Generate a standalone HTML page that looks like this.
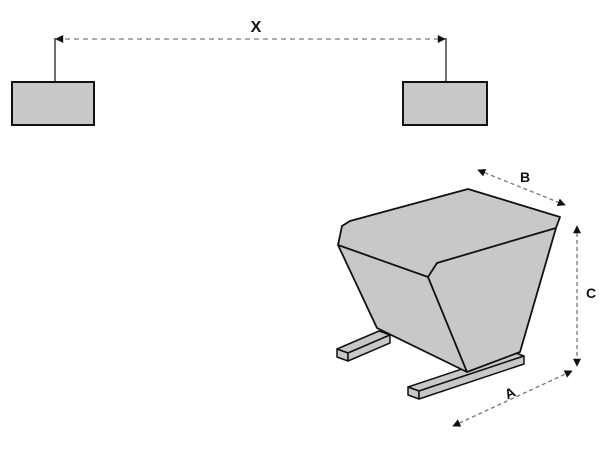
<!DOCTYPE html>
<html><head><style>body{margin:0;background:#fff}</style></head><body>
<svg width="600" height="450" viewBox="0 0 600 450" xmlns="http://www.w3.org/2000/svg" font-family="Liberation Sans, sans-serif">
<defs>
<marker id="ar" viewBox="0 0 10 10" refX="9" refY="5" markerWidth="12" markerHeight="8" orient="auto-start-reverse" markerUnits="userSpaceOnUse"><path d="M0,0 L10,5 L0,10 z" fill="#111"/></marker>
</defs>
<g stroke="#222" stroke-width="1.3">
<line x1="55" y1="38" x2="55" y2="82"/>
<line x1="446" y1="38" x2="446" y2="82"/>
</g>
<line x1="56" y1="39" x2="445" y2="39" stroke="#777" stroke-width="1.3" stroke-dasharray="5,4" marker-start="url(#ar)" marker-end="url(#ar)"/>
<text x="256" y="32" font-size="16" font-weight="bold" text-anchor="middle" fill="#111">X</text>
<rect x="12" y="82" width="82" height="43" fill="#c8c8c8" stroke="#111" stroke-width="2"/>
<rect x="403" y="82" width="84" height="43" fill="#c8c8c8" stroke="#111" stroke-width="2"/>
<g fill="#c8c8c8" stroke="#111" stroke-width="1.5" stroke-linejoin="round">
<polygon points="337,349 379,331 390,335 348,353"/>
<polygon points="337,349 348,353 348,361 337,357"/>
<polygon points="408,387 513,352 524,356 419,391"/>
<polygon points="408,387 419,391 419,399 408,395"/>
<polygon points="348,353 390,335 390,343 348,361" />
<polygon points="419,391 524,356 524,364 419,399"/>
</g>
<g fill="#c8c8c8" stroke="#111" stroke-width="1.8" stroke-linejoin="round">
<polygon points="338,245 342,226 350,221 468,189 560,217 556,228 520,352 467,372 377,328"/>
<polyline fill="none" points="338,245 428,277 437,263 556,228"/>
<line x1="428" y1="277" x2="467" y2="372"/>
</g>
<g stroke="#777" stroke-width="1.3" stroke-dasharray="4,3" fill="none">
<line x1="478" y1="170" x2="565" y2="205" marker-start="url(#ar)" marker-end="url(#ar)"/>
<line x1="577" y1="226" x2="577" y2="366" marker-start="url(#ar)" marker-end="url(#ar)"/>
<line x1="453" y1="426" x2="572" y2="371" marker-start="url(#ar)" marker-end="url(#ar)"/>
</g>
<text x="525" y="182" font-size="14" font-weight="bold" text-anchor="middle" fill="#111">B</text>
<text x="591" y="298" font-size="14" font-weight="bold" text-anchor="middle" fill="#111">C</text>
<text x="510" y="398" font-size="14" font-weight="bold" text-anchor="middle" fill="#111" transform="rotate(-25 510 393)">A</text>
</svg>
</body></html>
